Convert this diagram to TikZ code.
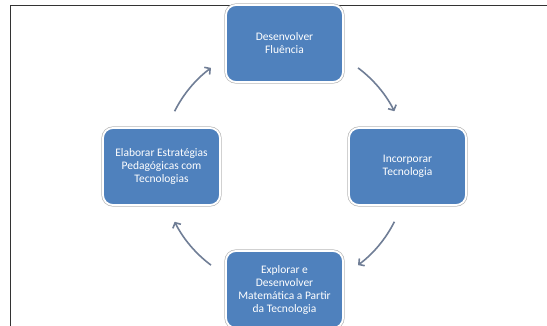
\documentclass[tikz,border=0pt]{standalone}
\usepackage{fontspec}
\setmainfont{Carlito}
\usetikzlibrary{arrows.meta}
\definecolor{boxblue}{RGB}{79,129,189}
\definecolor{arrowgray}{RGB}{112,126,150}
\tikzstyle{cyclebox} = [rectangle, rounded corners=10pt, minimum width=117pt, minimum height=77pt, align=center, text=white, font=\fontsize{11.5}{13}\selectfont, fill=boxblue, draw=white, line width=1.8pt, preaction={draw=black!28, line width=3.2pt}]
\tikzstyle{cyclearrow} = [draw=arrowgray, line width=1.6pt, -{Straight Barb[length=4pt,width=9pt]}]

\begin{document}
\begin{tikzpicture}[x=1pt, y=1pt]

\clip (0,0) rectangle (547,325);
\draw[black!80, line width=0.9pt] (10,-20) rectangle (560,319.5);

\coordinate (hub) at (284.5,158.5);

\node (fluencia) [cyclebox] at ([shift={(90:123)}]hub) {Desenvolver\\Fluência};
\node (incorporar) [cyclebox] at ([shift={(0:123)}]hub) {Incorporar\\Tecnologia};
\node (explorar) [cyclebox] at ([shift={(-90:123)}]hub) {Explorar e\\Desenvolver\\Matemática a Partir\\da Tecnologia};
\node (elaborar) [cyclebox] at ([shift={(180:123)}]hub) {Elaborar Estratégias\\Pedagógicas com\\Tecnologias};

\coordinate (arrA) at ([shift={(53.3:123)}]hub);
\coordinate (arrB) at ([shift={(-26.7:123)}]hub);
\coordinate (arrC) at ([shift={(-126.7:123)}]hub);
\coordinate (arrD) at ([shift={(153.3:123)}]hub);

\draw[cyclearrow] (arrA) arc[start angle=53.3, end angle=26.7, radius=123pt];
\draw[cyclearrow] (arrB) arc[start angle=-26.7, end angle=-53.3, radius=123pt];
\draw[cyclearrow] (arrC) arc[start angle=-126.7, end angle=-153.3, radius=123pt];
\draw[cyclearrow] (arrD) arc[start angle=153.3, end angle=126.7, radius=123pt];

\end{tikzpicture}
\end{document}
